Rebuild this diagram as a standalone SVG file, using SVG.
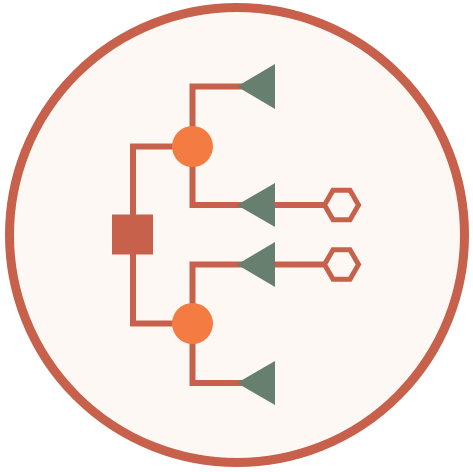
<svg xmlns="http://www.w3.org/2000/svg" width="473" height="472" viewBox="0 0 473 472">
<style>
.ln{fill:none;stroke:#C8614B;stroke-width:6}
.tri{fill:#667F6F}
.hub{fill:#F47B42}
.hex{fill:#FDF8F4;stroke:#C8614B;stroke-width:5}
</style>
<rect width="473" height="472" fill="#ffffff"/>
<circle id="frame" cx="237" cy="235" r="227.5" fill="#FDF8F4" stroke="#C8614B" stroke-width="9"/>
<g id="connectors">
<path class="ln" d="M133,216 V146.5 H192.5"/>
<path class="ln" d="M133,254 V323.5 H192.5"/>
<path class="ln" d="M192.5,146.5 V86.5 H255"/>
<path class="ln" d="M192.5,146.5 V205 H255"/>
<path class="ln" d="M192.5,323.5 V264.5 H255"/>
<path class="ln" d="M192.5,323.5 V383 H255"/>
<path class="ln" d="M260,205 H325"/>
<path class="ln" d="M260,264.5 H325"/>
</g>
<g id="root"><rect x="112" y="214.5" width="41" height="40" fill="#C8614B"/></g>
<g id="hub1"><circle class="hub" cx="192.5" cy="146.5" r="20.5"/></g>
<g id="hub2"><circle class="hub" cx="192.5" cy="323.5" r="20.5"/></g>
<g id="leaf1"><polygon class="tri" points="237,86.5 275,64 275,109"/></g>
<g id="leaf2"><polygon class="tri" points="237,205 275,183 275,227"/></g>
<g id="leaf3"><polygon class="tri" points="237,264.5 275,242 275,287"/></g>
<g id="leaf4"><polygon class="tri" points="237,383 275,361 275,405"/></g>
<g id="hex1"><polygon class="hex" points="324.5,205 333,190.3 350,190.3 358.5,205 350,219.7 333,219.7"/></g>
<g id="hex2"><polygon class="hex" points="324.5,264.5 333,249.8 350,249.8 358.5,264.5 350,279.2 333,279.2"/></g>
</svg>
